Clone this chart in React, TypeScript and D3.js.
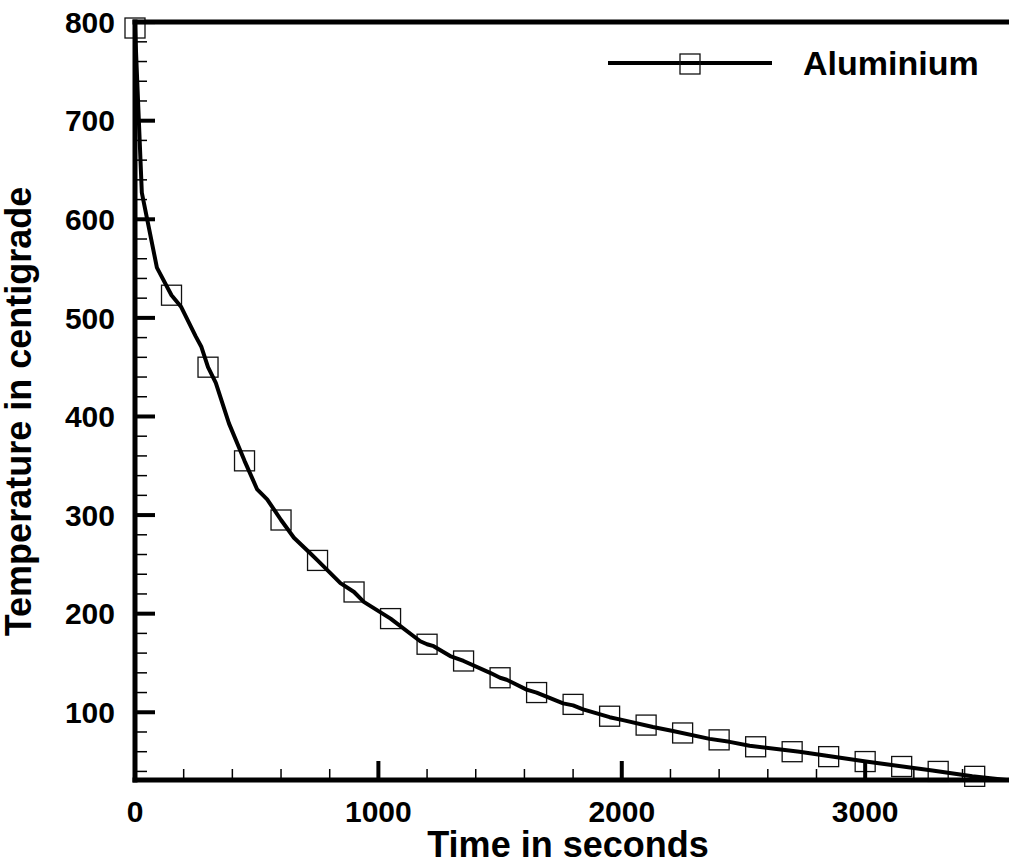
import React from "react";
import * as d3 from "d3";

// curve (time in s, temperature in C)
const lineTimes = [0, 28, 90, 150, 190, 250, 272, 300, 332, 386, 450, 502, 543, 600, 653, 721, 750, 844, 900, 940, 1050, 1172, 1200, 1227, 1295, 1350, 1459, 1500, 1527, 1609, 1650, 1759, 1800, 1841, 1950, 2005, 2128, 2210, 2361, 2443, 2525, 2730, 3003, 3276, 3440, 3580];
const lineTemps = [795, 627, 551, 523, 511, 481, 471, 450, 434, 393, 355, 326, 316, 295, 277, 261, 254, 231, 222, 212, 195, 172, 169, 167, 157, 152, 140, 135, 133, 123, 120, 109, 107, 103, 95, 92, 85, 81, 73, 70, 66, 60, 50, 41, 35, 31.3];

// square markers, every 150 s
const markerTimes = [0, 150, 300, 450, 600, 750, 900, 1050, 1200, 1350, 1500, 1650, 1800, 1950, 2100, 2250, 2400, 2550, 2700, 2850, 3000, 3150, 3300, 3450];
const markerTemps = [794, 523, 450, 355, 295, 254, 222, 195, 169, 152, 135, 120, 108, 96, 87, 79, 72, 65, 60, 55, 50, 45, 40, 35];

const xMajor = [0, 1000, 2000, 3000];
const yMajor = [100, 200, 300, 400, 500, 600, 700, 800];

const seriesName = "Aluminium";
const xTitle = "Time in seconds";
const yTitle = "Temperature in centigrade";

const W = 1009;
const H = 858;
const font = "'Liberation Sans', Arial, Helvetica, sans-serif";

const x = d3.scaleLinear().domain([0, 3600]).range([135, 1011.2]);
const y = d3.scaleLinear().domain([31.3, 800]).range([780, 22.1]);

const xMinor = d3.range(200, 3600, 200).filter((v) => v % 1000 !== 0);
const yMinor = d3.range(40, 800, 20).filter((v) => v % 100 !== 0);

const pts: [number, number][] = lineTimes.map((t, i) => [t, lineTemps[i]]);
const line = d3
  .line<[number, number]>()
  .x((d) => x(d[0]))
  .y((d) => y(d[1]));

const S = 20; // marker size

export default function App() {
  const left = x(0);
  const bottom = y(31.3);
  const top = y(800);
  return (
    <svg
      width={W}
      height={H}
      style={{ position: "absolute", left: 0, top: 0, background: "#fff" }}
    >
      <rect width={W} height={H} fill="#fff" />

      {/* markers */}
      <g fill="none" stroke="#111" strokeWidth={1.3}>
        {markerTimes.map((t, i) => (
          <rect
            key={i}
            x={x(t) - S / 2}
            y={y(markerTemps[i]) - S / 2}
            width={S}
            height={S}
          />
        ))}
      </g>

      <path d={line(pts) || ""} fill="none" stroke="#000" strokeWidth={4} strokeLinejoin="round" />

      {/* minor ticks */}
      <g stroke="#000" strokeWidth={1.5}>
        {xMinor.map((v) => (
          <line key={v} x1={x(v)} x2={x(v)} y1={bottom} y2={bottom - 11} />
        ))}
        {yMinor.map((v) => (
          <line key={v} x1={left} x2={left + 12} y1={y(v)} y2={y(v)} />
        ))}
      </g>

      {/* major ticks */}
      <g stroke="#000" strokeWidth={4}>
        {xMajor.map((v) => (
          <line key={v} x1={x(v)} x2={x(v)} y1={bottom} y2={bottom - 19} />
        ))}
        {yMajor.map((v) => (
          <line key={v} x1={left} x2={left + 20} y1={y(v)} y2={y(v)} />
        ))}
      </g>

      {/* frame */}
      <g stroke="#000" strokeWidth={5} fill="none" strokeLinecap="square">
        <line x1={left} x2={W + 10} y1={top} y2={top} />
        <line x1={left} x2={W + 10} y1={bottom} y2={bottom} />
        <line x1={left} x2={left} y1={top} y2={bottom} />
      </g>

      {/* tick labels */}
      <g fontFamily={font} fontWeight="bold" fontSize={30} fill="#000">
        {xMajor.map((v) => (
          <text key={v} x={x(v)} y={822} textAnchor="middle">
            {v}
          </text>
        ))}
        {yMajor.map((v) => (
          <text key={v} x={115} y={y(v)} dy="0.36em" textAnchor="end">
            {v}
          </text>
        ))}
      </g>

      {/* titles */}
      <text
        x={568}
        y={857}
        textAnchor="middle"
        fontFamily={font}
        fontWeight="bold"
        fontSize={36}
      >
        {xTitle}
      </text>
      <text
        transform={`translate(31,411.5) rotate(-90)`}
        textAnchor="middle"
        fontFamily={font}
        fontWeight="bold"
        fontSize={36}
      >
        {yTitle}
      </text>

      {/* legend */}
      <line x1={608} x2={772} y1={63} y2={63} stroke="#000" strokeWidth={4} />
      <rect x={690 - S / 2} y={64 - S / 2} width={S} height={S} fill="none" stroke="#111" strokeWidth={1.3} />
      <text x={803} y={75} fontFamily={font} fontWeight="bold" fontSize={34}>
        {seriesName}
      </text>
    </svg>
  );
}
